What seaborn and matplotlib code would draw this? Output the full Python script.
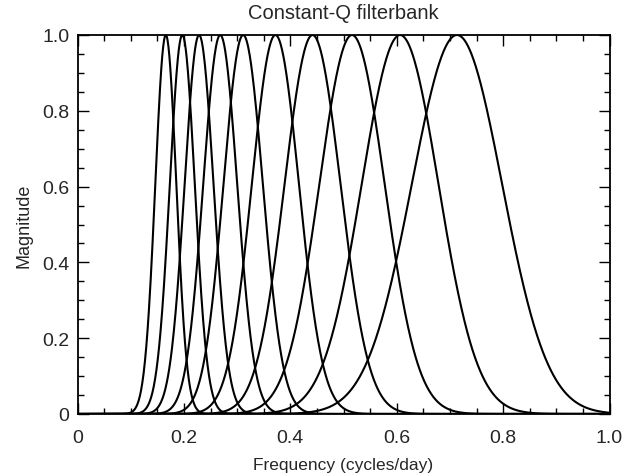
""" Constant-Q filterbank magnitude responses. """

import numpy as np
import pandas as pd
import seaborn as sns
import matplotlib.pyplot as plt
from matplotlib.ticker import MultipleLocator

# Filter centre frequencies (cycles/day), read from the peaks
centres = [0.166, 0.197, 0.2285, 0.2683, 0.3114, 0.372, 0.4418, 0.516, 0.6064, 0.7133]
# Constant Q: every filter's Gaussian width is this fraction of its centre
rel_width = 0.119

x_ticks = [0, 0.2, 0.4, 0.6, 0.8, 1.0]
x_tick_labels = ["0", "0.2", "0.4", "0.6", "0.8", "1.0"]
y_ticks = [0, 0.2, 0.4, 0.6, 0.8, 1.0]
y_tick_labels = ["0", "0.2", "0.4", "0.6", "0.8", "1.0"]


def main() -> None:
    """ Main function. """

    freq = np.linspace(0.0, 1.0, 1200)
    frames = []
    for i, c in enumerate(centres):
        mag = np.exp(-((freq - c) / (rel_width * c)) ** 2 / 2)
        frames.append(pd.DataFrame({"filter": i, "freq": freq, "mag": mag}))
    df = pd.concat(frames, ignore_index=True)

    sns.set_style("ticks")
    plt.rcParams["font.family"] = ["Liberation Sans", "DejaVu Sans"]

    fig = plt.figure(figsize=(6.24, 4.77), dpi=100)
    ax = fig.add_axes([77.5 / 624, 62 / 477, 532 / 624, 379 / 477])

    sns.lineplot(df, x="freq", y="mag", hue="filter", palette=["black"] * len(centres),
                 legend=False, linewidth=1.5, ax=ax, estimator=None)

    ax.set_xlim(0, 1)
    ax.set_ylim(0, 1)
    ax.set_xticks(x_ticks, labels=x_tick_labels, fontsize=14)
    ax.set_yticks(y_ticks, labels=y_tick_labels, fontsize=14)
    ax.xaxis.set_minor_locator(MultipleLocator(0.05))
    ax.yaxis.set_minor_locator(MultipleLocator(0.05))
    ax.tick_params(which="both", direction="in", top=True, right=True, color="black", width=1)
    ax.tick_params(which="major", length=8)
    ax.tick_params(which="minor", length=4)
    ax.tick_params(axis="x", which="major", pad=11)
    ax.tick_params(axis="y", which="major", pad=6)
    for s in ax.spines.values():
        s.set_linewidth(1.3)
        s.set_color("black")

    ax.set_title("Constant-Q filterbank", fontsize=14.5, pad=12)
    ax.set_xlabel("Frequency (cycles/day)", fontsize=12.5, labelpad=8)
    ax.set_ylabel("Magnitude", fontsize=13, labelpad=7)

    fig.savefig("out.png", dpi=100)


if __name__ == "__main__":
    main()
